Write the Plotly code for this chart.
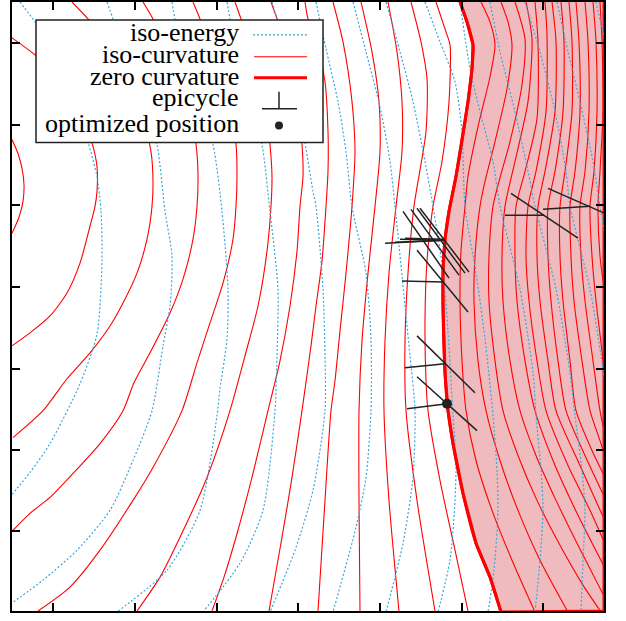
import plotly.graph_objects as go

# ---- iso-curvature contours (thin red), as (x, y) control points ----
iso_curvature = [
    [(12,138),(18,152),(22,167),(24,183),(23,200),(19,216),(12,232)],
    [(12,36),(35,53),(60,76),(80,108),(92,141),(97,165),(97,190),(95,205),(90,225),(80,262),(67,292),(50,315),(30,332),(12,345)],
    [(72,0),(88,17),(110,45),(130,85),(144,120),(151,150),(153,180),(152,205),(147,238),(137,272),(123,302),(110,325),(90,352),(67,378),(43,410),(13,437)],
    [(143,0),(153,17),(172,55),(187,100),(196,143),(198,173),(197,205),(193,238),(183,278),(170,312),(150,352),(134,382),(123,410),(100,443),(73,473),(50,497),(30,513),(12,531)],
    [(193,0),(200,17),(216,60),(229,105),(236,143),(237,175),(236,205),(233,238),(223,282),(210,322),(197,362),(182,410),(153,467),(133,500),(100,550),(70,587),(38,611)],
    [(235,0),(241,17),(255,60),(265,100),(270,143),(272,175),(271,205),(267,250),(258,305),(245,355),(230,410),(207,477),(180,537),(160,577),(137,611)],
    [(271,0),(277,17),(288,55),(297,100),(302,143),(303,175),(300,205),(297,250),(290,305),(280,360),(268,410),(252,477),(236,537),(224,577),(212,611)],
    [(305,0),(308,17),(318,45),(325,80),(328,130),(328,170),(326,205),(322,260),(316,305),(311,345),(302,410),(292,477),(282,537),(269,611)],
    [(333,0),(343,40),(352,100),(355,150),(352,205),(346,272),(340,330),(335,380),(331,410),(325,500),(318,611)],
    [(361,0),(372,50),(379,100),(380,150),(375,205),(368,272),(362,340),(359,410),(359,500),(360,611)],
    [(388,0),(397,50),(402,100),(402,150),(396,205),(389,272),(385,340),(384,410),(389,500),(399,611)],
    [(411,0),(421,40),(427,77),(426,130),(414,205),(408,272),(405,340),(406,410),(417,500),(435,611)],
    [(436,0),(446,30),(450,43),(449,100),(442,160),(433,205),(427,260),(425,320),(426,380),(428,410),(440,480),(455,550),(468,611)],
    # inside the negative-curvature region
    [(481,0),(490,20),(495,43),(490,75),(478,125),(468,175),(465,205),(461,250),(460,300),(462,360),(466,410),(476,460),(492,510),(512,560),(535,612)],
    [(501,0),(508,20),(512,43),(507,87),(495,140),(485,180),(480,205),(475,255),(474,300),(478,360),(486,410),(500,460),(518,510),(540,560),(568,612)],
    [(515,0),(525,37),(522,83),(510,140),(499,180),(493,205),(489,255),(489,300),(495,360),(503,410),(518,455),(537,500),(560,545),(583,585),(601,612)],
    [(526,0),(532,37),(528,100),(515,160),(505,205),(502,255),(503,300),(510,360),(520,410),(536,455),(556,500),(578,545),(606,600)],
    [(535,0),(538,40),(537,117),(525,170),(516,205),(515,255),(517,300),(525,360),(535,410),(553,460),(578,515),(606,570)],
    [(545,0),(547,33),(546,110),(536,170),(528,205),(526,255),(529,300),(537,360),(546,410),(568,465),(590,510),(606,546)],
    [(552,0),(556,40),(555,110),(545,170),(538,205),(537,255),(540,300),(548,360),(556,410),(580,465),(606,523)],
    [(561,0),(564,40),(563,110),(555,170),(548,205),(548,255),(551,300),(558,360),(566,410),(585,455),(606,500)],
    [(569,0),(572,40),(572,110),(565,170),(560,205),(560,255),(563,300),(570,360),(576,410),(592,450),(606,479)],
    [(576,0),(579,40),(580,110),(575,170),(570,205),(571,255),(574,300),(582,360),(590,410),(600,440),(606,459)],
    [(585,0),(588,40),(589,110),(585,170),(580,205),(581,255),(585,300),(593,360),(600,410),(606,439)],
    [(593,0),(596,40),(597,110),(594,170),(590,205),(592,255),(596,300),(603,360),(607,418)],
    [(600,0),(602,40),(603,110),(600,170),(598,205),(600,255),(606,300)],
]

# ---- zero-curvature contour (thick red), bounding the shaded region ----
zero_curvature = [(460,0),(467,20),(473,43),(472,67),(468,100),(463,133),(456,175),(449,210),(445,238),
                  (443,270),(443,305),(445,372),(448,410),(453,443),(463,493),(476,543),(490,577),(501,612)]

# ---- iso-energy contours (dotted blue) ----
iso_energy = [
    [(20,0),(35,20),(55,50),(75,95),(88,140),(97,175),(101,210),(102,260),(97,333),(80,383),(50,443),(30,472),(12,494)],
    [(107,0),(113,17),(128,60),(145,105),(157,143),(165,210),(172,255),(170,305),(163,345),(152,410),(133,460),(110,510),(77,550),(43,580),(12,603)],
    [(172,0),(175,17),(188,60),(200,105),(213,143),(222,210),(228,288),(227,338),(220,388),(217,415),(200,510),(167,570),(117,612)],
    [(227,0),(230,17),(240,60),(252,105),(262,143),(270,210),(278,288),(277,355),(275,410),(263,510),(240,563),(203,612)],
    [(272,0),(277,17),(290,70),(303,130),(313,190),(316,205),(323,288),(325,355),(325,410),(313,490),(295,550),(270,612)],
    [(316,0),(326,47),(338,100),(346,150),(352,205),(366,272),(371,338),(371,410),(366,477),(356,527),(333,612)],
    [(353,0),(366,50),(380,105),(390,160),(395,205),(405,305),(410,355),(415,410),(413,477),(403,543),(386,612)],
    [(386,0),(400,50),(413,100),(425,160),(433,205),(443,270),(448,330),(453,415),(456,460),(455,500),(450,560),(438,612)],
    [(425,0),(440,40),(455,80),(462,130),(465,205),(476,272),(485,338),(493,415),(497,470),(498,510),(494,570),(488,612)],
    [(460,0),(470,67),(480,110),(493,160),(500,205),(520,288),(533,372),(536,415),(541,470),(543,510),(540,560),(535,612)],
    [(490,0),(500,50),(515,110),(528,170),(535,205),(556,288),(570,372),(575,415),(582,470),(585,510),(583,560),(581,612)],
    [(525,0),(540,50),(555,110),(566,170),(570,205),(590,288),(601,355),(610,420)],
    [(557,0),(568,50),(580,100),(593,160),(600,205),(610,260)],
    [(596,0),(605,40)],
]

# ---- epicycles: a horizontal stroke and a tilted stroke through each trial point ----
epicycle_horizontal = [((385,242),(443,239)), ((395,241),(443,239)), ((400,238),(445,239)), ((405,237),(443,238)),
                       ((402,280),(443,281)), ((405,367),(445,363)), ((407,408),(447,403)),
                       ((505,214),(544,214)), ((543,208),(590,205))]
epicycle_tilted = [((403,210),(449,277)), ((411,208),(459,274)), ((417,207),(465,272)), ((420,207),(469,271)),
                   ((417,249),(468,311)), ((417,335),(475,392)), ((417,376),(477,430)),
                   ((511,192),(578,237)), ((548,187),(632,224))]

optimized_position = (447, 403)

legend_labels = ["iso-energy", "iso-curvature", "zero curvature", "epicycle", "optimized position"]

x_ticks = [53, 135, 217, 298, 380, 462, 543]
y_ticks = [41, 123, 204, 286, 368, 449, 531]
x_span = [12, 604]
y_span = [611, 0]

RED = "#ff0000"
BLUE = "#3aa7dc"
INK = "#222222"
PINK = "#efbbbe"
SERIF = "Liberation Serif, Times New Roman, DejaVu Serif, serif"

fig = go.Figure()

# shaded region (negative curvature) to the right of the zero-curvature line,
# closed along the right-hand frame
zx = [p[0] for p in zero_curvature] + [x_span[1], x_span[1]]
zy = [p[1] for p in zero_curvature] + [y_span[0], y_span[1]]
fig.add_trace(go.Scatter(x=zx, y=zy, fill="toself", fillcolor=PINK, mode="lines",
                         line=dict(color=RED, width=3), hoverinfo="skip", showlegend=False))

for curve in iso_curvature:
    fig.add_trace(go.Scatter(x=[p[0] for p in curve], y=[p[1] for p in curve], mode="lines",
                             line=dict(color=RED, width=1.1, shape="spline", smoothing=0.7),
                             hoverinfo="skip", showlegend=False))

for curve in iso_energy:
    fig.add_trace(go.Scatter(x=[p[0] for p in curve], y=[p[1] for p in curve], mode="lines",
                             line=dict(color=BLUE, width=1.2, dash="2px,2px", shape="spline", smoothing=0.7),
                             hoverinfo="skip", showlegend=False))

fig.add_trace(go.Scatter(x=[p[0] for p in zero_curvature], y=[p[1] for p in zero_curvature], mode="lines",
                         line=dict(color=RED, width=3, shape="spline", smoothing=0.6),
                         hoverinfo="skip", showlegend=False))

for segs in (epicycle_horizontal, epicycle_tilted):
    xs, ys = [], []
    for a, b in segs:
        xs += [a[0], b[0], None]
        ys += [a[1], b[1], None]
    fig.add_trace(go.Scatter(x=xs, y=ys, mode="lines", line=dict(color=INK, width=1.5),
                             hoverinfo="skip", showlegend=False))

fig.add_trace(go.Scatter(x=[optimized_position[0]], y=[optimized_position[1]], mode="markers",
                         marker=dict(color=INK, size=10), hoverinfo="skip", showlegend=False))

# key box, drawn on top of the contours
shapes = [dict(type="rect", xref="x", yref="y", x0=36, x1=323, y0=18, y1=141,
               fillcolor="white", line=dict(color=INK, width=1.5), layer="above")]
row_y = [31, 53, 75, 96, 122]
shapes.append(dict(type="line", xref="x", yref="y", x0=253, x1=307, y0=33, y1=33,
                   line=dict(color=BLUE, width=1.2, dash="2px,2px"), layer="above"))
shapes.append(dict(type="line", xref="x", yref="y", x0=254, x1=307, y0=55, y1=55,
                   line=dict(color=RED, width=1.1), layer="above"))
shapes.append(dict(type="line", xref="x", yref="y", x0=254, x1=307, y0=76, y1=76,
                   line=dict(color=RED, width=3), layer="above"))
shapes.append(dict(type="line", xref="x", yref="y", x0=262, x1=297, y0=107, y1=107,
                   line=dict(color=INK, width=1.5), layer="above"))
shapes.append(dict(type="line", xref="x", yref="y", x0=279, x1=279, y0=90, y1=107,
                   line=dict(color=INK, width=1.5), layer="above"))
shapes.append(dict(type="circle", xref="x", yref="y", x0=275, x1=283, y0=120, y1=128,
                   fillcolor=INK, line=dict(color=INK, width=0), layer="above"))

annotations = []
for label, yy in zip(legend_labels, row_y):
    annotations.append(dict(x=241, y=yy, xref="x", yref="y", text=label, showarrow=False,
                            xanchor="right", yanchor="middle",
                            font=dict(family=SERIF, size=26, color="black")))

axis_common = dict(showgrid=False, zeroline=False, showline=True, linecolor="black", linewidth=2,
                   mirror="ticks", ticks="inside", ticklen=8, tickwidth=1.5, tickcolor="black",
                   showticklabels=False)

fig.update_layout(
    width=626, height=621,
    margin=dict(l=12, r=22, t=0, b=10),
    paper_bgcolor="white", plot_bgcolor="white",
    xaxis=dict(range=x_span, tickvals=x_ticks, **axis_common),
    yaxis=dict(range=y_span, tickvals=y_ticks, **axis_common),
    shapes=shapes, annotations=annotations, showlegend=False,
)

fig.write_html("out.html")
